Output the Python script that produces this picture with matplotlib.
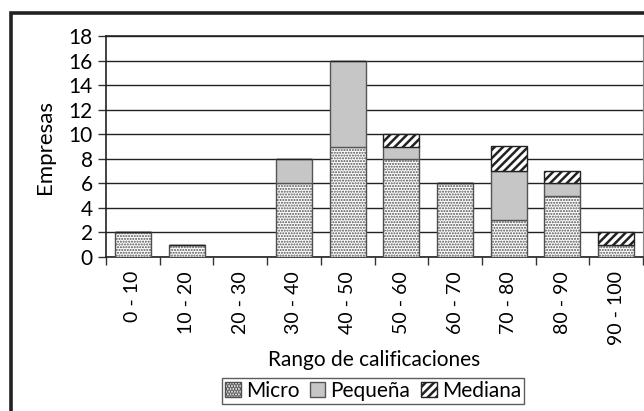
import numpy as np
import matplotlib.pyplot as plt
from matplotlib.patches import Rectangle

plt.rcParams['font.family'] = ['Lato', 'DejaVu Sans']

rangos = ["0 - 10", "10 - 20", "20 - 30", "30 - 40", "40 - 50",
          "50 - 60", "60 - 70", "70 - 80", "80 - 90", "90 - 100"]
micro = [2, 1, 0, 6, 9, 8, 6, 3, 5, 1]
pequena = [0, 0, 0, 2, 7, 1, 0, 4, 1, 0]
mediana = [0, 0, 0, 0, 0, 1, 0, 2, 1, 1]

fig = plt.figure(figsize=(6.44, 4.11), dpi=100)
ax = fig.add_axes([106 / 644, 1 - 257 / 411, (643 - 106) / 644, (257 - 36) / 411])

# outer frame of the chart area (runs off the right and bottom edges)
fig.patches.append(Rectangle((11 / 644, -0.05), 1.0, 1 - 13 / 411 + 0.05,
                             transform=fig.transFigure, fill=False,
                             edgecolor='#222222', linewidth=2.6, zorder=0))

x = np.arange(len(rangos))
w = 0.67
bottom2 = np.array(micro)
bottom3 = bottom2 + np.array(pequena)

plt.rcParams['hatch.linewidth'] = 1.0
ax.bar(x, micro, w, color='white', edgecolor='#505050', hatch='......',
       linewidth=1.0, label='Micro', zorder=3)
ax.bar(x, pequena, w, bottom=bottom2, color='#c6c6c6', edgecolor='#555555',
       linewidth=1.0, label='Pequeña', zorder=3)
plt.rcParams['hatch.linewidth'] = 1.8
ax.bar(x, mediana, w, bottom=bottom3, color='white', edgecolor='#222222',
       hatch='////', linewidth=1.0, label='Mediana', zorder=3)

ax.set_xlim(-0.5, len(rangos) - 0.5)
ax.set_ylim(0, 18)
ax.set_yticks(range(0, 19, 2))
ax.yaxis.grid(True, color='#222222', linewidth=1.0, zorder=0)

ax.set_xticks(x)
ax.set_xticklabels(rangos, rotation=90, fontsize=14)
ax.tick_params(axis='x', length=0, pad=10)
ax.set_xticks(np.arange(-0.5, len(rangos)), minor=True)
ax.tick_params(axis='x', which='minor', length=6, width=1, color='#333333')
ax.tick_params(axis='y', labelsize=15, length=6, width=1, color='#333333')

for s in ['left', 'bottom', 'top']:
    ax.spines[s].set_color('#222222')
    ax.spines[s].set_linewidth(1.2)
ax.spines['right'].set_color('#888888')

ax.set_ylabel('Empresas', fontsize=16, labelpad=10)
ax.set_xlabel('Rango de calificaciones', fontsize=15, labelpad=4)

leg = fig.legend(loc='upper center', bbox_to_anchor=(373 / 644, 1 - 378 / 411),
                 ncol=3, fontsize=15, frameon=True, fancybox=False,
                 handlelength=0.75, handleheight=0.75, handletextpad=0.25,
                 columnspacing=0.5, borderpad=0.15, borderaxespad=0)
leg.get_frame().set_edgecolor('#333333')
leg.get_frame().set_linewidth(1.0)

fig.savefig('out.png', dpi=100)
